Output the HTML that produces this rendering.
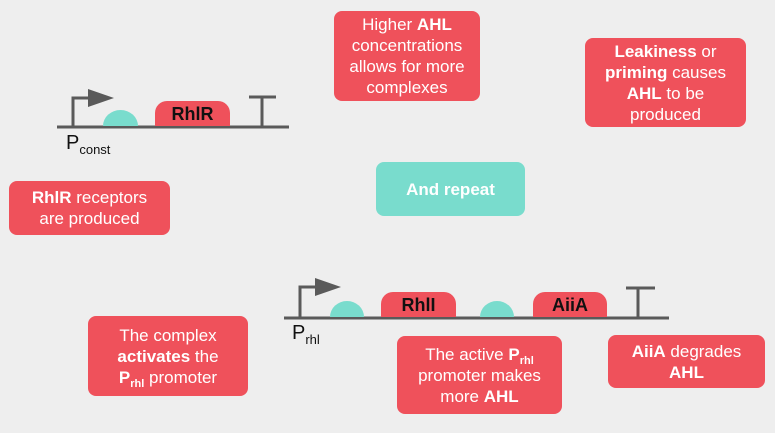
<!DOCTYPE html>
<html><head><meta charset="utf-8"><style>
body{margin:0;width:775px;height:433px;background:#eeeeee;position:relative;overflow:hidden;font-family:"Liberation Sans",sans-serif}
.box{position:absolute;background:#ef515b;color:#fff;border-radius:8px;display:flex;align-items:center;justify-content:center;text-align:center;font-size:17px;line-height:21px}
.box b{font-weight:bold}
.gene{position:absolute;background:#ef515b;border-radius:12px 12px 0 0;color:#111;font-weight:bold;font-size:18px;display:flex;align-items:center;justify-content:center;padding-top:2px;box-sizing:border-box}
.lbl{position:absolute;font-size:20px;color:#111}
.lbl sub{font-size:13px}
sub.s{font-size:11px;vertical-align:-4px;line-height:0}
</style></head><body>
<svg width="775" height="433" style="position:absolute;left:0;top:0">
<g fill="none" stroke="#5a5a5a" stroke-width="3">
<line x1="57" y1="127" x2="289" y2="127"/>
<polyline points="73,127 73,98 90,98"/>
<line x1="262" y1="127" x2="262" y2="97"/><line x1="249" y1="97" x2="276" y2="97"/>
<line x1="284" y1="318" x2="669" y2="318"/>
<polyline points="300,318 300,287 317,287"/>
<line x1="638" y1="318" x2="638" y2="288"/><line x1="626" y1="288" x2="655" y2="288"/>
</g>
<polygon points="88,89 114,98 88,107" fill="#5a5a5a"/>
<polygon points="315,278 341,287 315,296" fill="#5a5a5a"/>
<path d="M103,126 A17.5,16 0 0 1 138,126 Z" fill="#79dccd"/>
<path d="M330,317 A17,16 0 0 1 364,317 Z" fill="#79dccd"/>
<path d="M480,317 A17,16 0 0 1 514,317 Z" fill="#79dccd"/>
</svg>
<div class="gene" style="left:155px;top:101px;width:75px;height:25px">RhlR</div>
<div class="gene" style="left:381px;top:292px;width:75px;height:25px">RhlI</div>
<div class="gene" style="left:533px;top:292px;width:74px;height:25px">AiiA</div>
<div class="lbl" style="left:66px;top:132px">P<sub>const</sub></div>
<div class="lbl" style="left:292px;top:322px">P<sub>rhl</sub></div>

<div class="box" style="left:334px;top:11px;width:146px;height:90px"><div>Higher <b>AHL</b><br>concentrations<br>allows for more<br>complexes</div></div>
<div class="box" style="left:585px;top:38px;width:161px;height:89px"><div><b>Leakiness</b> or<br><b>priming</b> causes<br><b>AHL</b> to be<br>produced</div></div>
<div class="box" style="left:9px;top:181px;width:161px;height:54px"><div><b>RhlR</b> receptors<br>are produced</div></div>
<div class="box" style="left:376px;top:162px;width:149px;height:54px;background:#79dccd;font-weight:bold">And repeat</div>
<div class="box" style="left:88px;top:316px;width:160px;height:80px"><div>The complex<br><b>activates</b> the<br><b>P<sub class="s">rhl</sub></b> promoter</div></div>
<div class="box" style="left:397px;top:336px;width:165px;height:78px"><div>The active <b>P<sub class="s">rhl</sub></b><br>promoter makes<br>more <b>AHL</b></div></div>
<div class="box" style="left:608px;top:335px;width:157px;height:53px"><div><b>AiiA</b> degrades<br><b>AHL</b></div></div>
</body></html>
